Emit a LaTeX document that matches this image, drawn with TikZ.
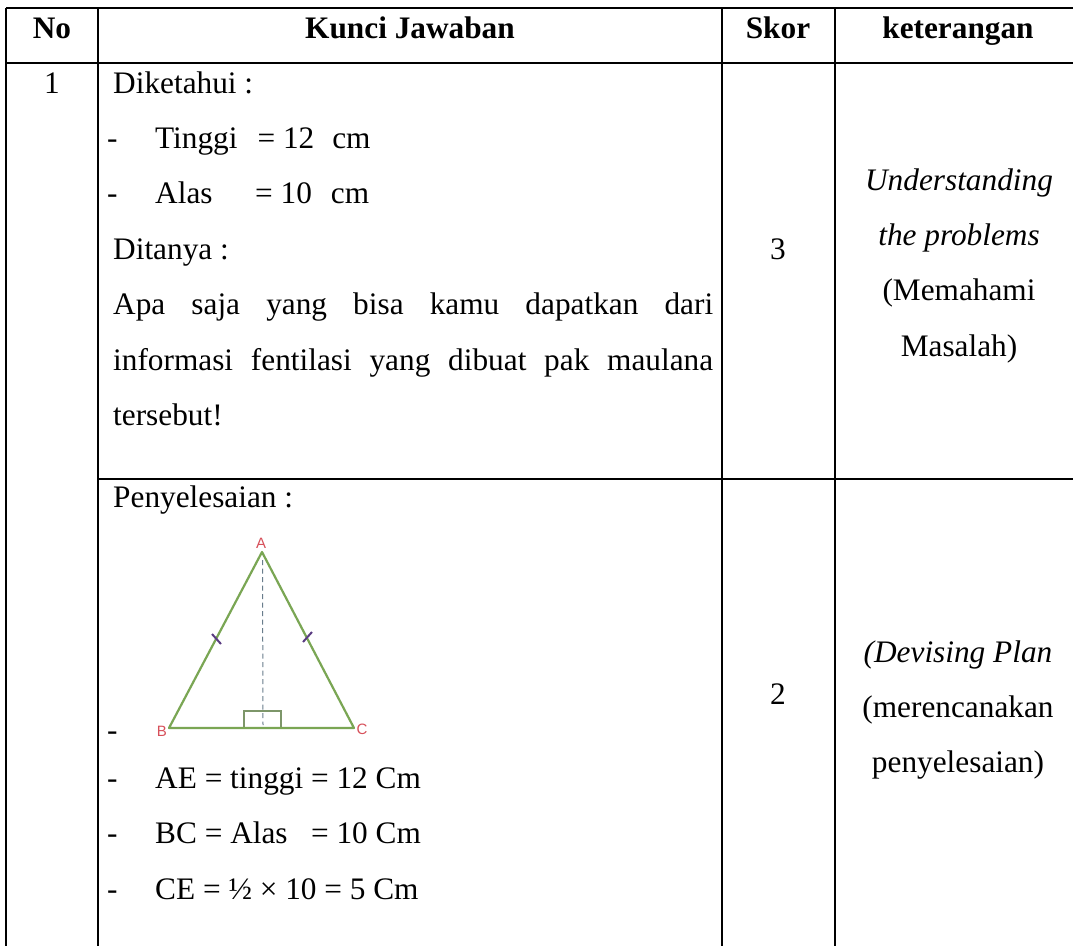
\documentclass[tikz,border=0pt]{standalone}
\usepackage{fontspec}
\setmainfont{Liberation Serif}
\tikzset{
  tbl/.style={line width=2.2pt,black},
  txt/.style={anchor=base west,inner sep=0pt,font=\fontsize{31.3}{36}\selectfont},
  ctr/.style={anchor=base,inner sep=0pt,font=\fontsize{31.3}{36}\selectfont},
  bctr/.style={anchor=base,inner sep=0pt,font=\fontsize{31.3}{36}\selectfont\bfseries},
  ictr/.style={anchor=base,inner sep=0pt,font=\fontsize{31.3}{36}\selectfont\itshape},
  vlabel/.style={inner sep=0pt,text=lab,font=\fontspec{Liberation Sans}\fontsize{15}{15}\selectfont},
}
\definecolor{trigreen}{RGB}{122,166,84}
\definecolor{rectgreen}{RGB}{125,150,105}
\definecolor{dashc}{RGB}{105,125,140}
\definecolor{tick}{RGB}{90,60,130}
\definecolor{lab}{RGB}{215,80,90}
\begin{document}
\begin{tikzpicture}[x=1pt,y=-1pt]
\useasboundingbox (0,0) rectangle (1073,946);
\fill[white] (0,0) rectangle (1073,946);
\draw[tbl] (6,8) -- (1073,8);
\draw[tbl] (6,63) -- (1073,63);
\draw[tbl] (98,479) -- (1073,479);
\draw[tbl] (6,8) -- (6,946);
\draw[tbl] (98,8) -- (98,946);
\draw[tbl] (722,8) -- (722,946);
\draw[tbl] (835,8) -- (835,946);
\node[bctr] (h1) at (52,38) {No};
\node[bctr] (h2) at (410,38) {Kunci Jawaban};
\node[bctr] (h3) at (778,38) {Skor};
\node[bctr] (h4) at (958,38) {keterangan};
\node[ctr] (n1) at (52,93) {1};
\node[txt] (a1) at (113,93) {Diketahui :};
\node[txt] (d1) at (107,148) {-};
\node[txt] (a2) at (155,148) {Tinggi\hspace{20pt}= 12\hspace{18pt}cm};
\node[txt] (d2) at (107,203.5) {-};
\node[txt] (a3) at (155,203.5) {Alas\hspace{42.6pt}= 10\hspace{19pt}cm};
\node[txt] (a4) at (113,259) {Ditanya :};
\node[txt] (a5) at (113,314.5) {\makebox[600pt][s]{Apa saja yang bisa kamu dapatkan dari}};
\node[txt] (a6) at (113,370) {\makebox[600pt][s]{informasi fentilasi yang dibuat pak maulana}};
\node[txt] (a7) at (113,425.5) {tersebut!};
\node[txt] (b1) at (113,507) {Penyelesaian :};
\node[txt] (d3) at (107,740) {-};
\node[txt] (b2) at (155,788) {AE = tinggi = 12 Cm};
\node[txt] (d4) at (107,788) {-};
\node[txt] (b3) at (155,843) {BC = Alas\ \ \ = 10 Cm};
\node[txt] (d5) at (107,843) {-};
\node[txt] (b4) at (155,899) {CE = ½ × 10 = 5 Cm};
\node[txt] (d6) at (107,899) {-};
\node[ctr] (s1) at (778,259) {3};
\node[ctr] (s2) at (778,704) {2};
\node[ictr] (k1) at (959,190) {Understanding};
\node[ictr] (k2) at (959,245) {the problems};
\node[ctr] (k3) at (959,300) {(Memahami};
\node[ctr] (k4) at (959,356) {Masalah)};
\node[ictr] (k5) at (958,662) {(Devising Plan};
\node[ctr] (k6) at (958,717) {(merencanakan};
\node[ctr] (k7) at (958,772) {penyelesaian)};
% triangle
\coordinate (A) at (262,552);
\coordinate (B) at (169,728);
\coordinate (C) at (354,728);
\coordinate (T) at (262.5,560);
\coordinate (F) at (263,725);
\draw[line width=1.1pt,draw=rectgreen] (244,728) rectangle (281,711);
\draw[line width=1pt,draw=dashc,dash pattern=on 5pt off 3.5pt] (T) -- (F);
\draw[line width=2.2pt,draw=trigreen,line join=round] (A) -- (B) -- (C) -- cycle;
\draw[line width=2pt,tick] (212,634) -- (221,644);
\draw[line width=2pt,tick] (303,642) -- (312,632);
\node[vlabel] (la) at (261,543) {A};
\node[vlabel] (lb) at (162,731) {B};
\node[vlabel] (lc) at (362,729) {C};
\end{tikzpicture}
\end{document}
